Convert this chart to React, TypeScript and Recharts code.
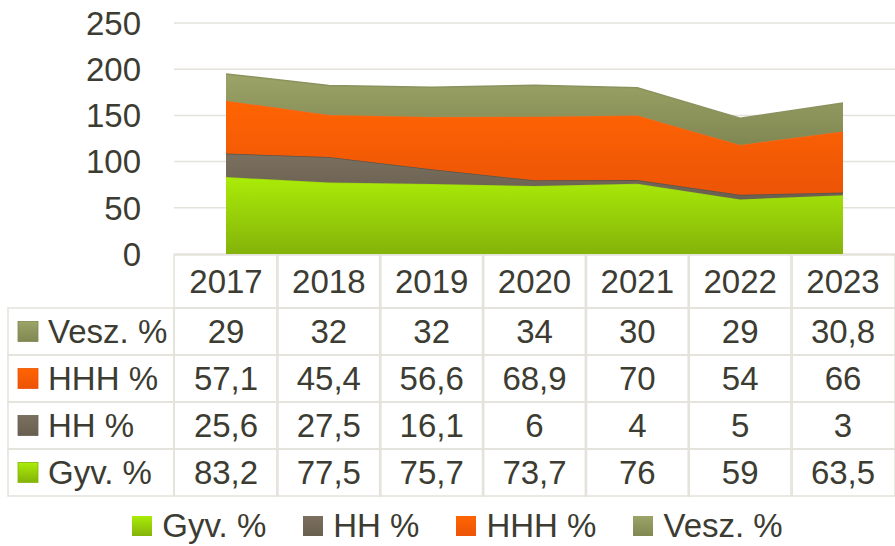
import { AreaChart, Area, XAxis, YAxis, CartesianGrid, Legend } from 'recharts';

const years = ['2017', '2018', '2019', '2020', '2021', '2022', '2023'];
const gyv = [83.2, 77.5, 75.7, 73.7, 76, 59, 63.5];
const hh = [25.6, 27.5, 16.1, 6, 4, 5, 3];
const hhh = [57.1, 45.4, 56.6, 68.9, 70, 54, 66];
const vesz = [29, 32, 32, 34, 30, 29, 30.8];
const yTicks = [0, 50, 100, 150, 200, 250];

const series = [
  { key: 'gyv', name: 'Gyv. %', values: gyv, top: '#aaec08', bottom: '#84b30a', stroke: '#9ed60c' },
  { key: 'hh', name: 'HH %', values: hh, top: '#7b705f', bottom: '#695f50', stroke: '#5c5346' },
  { key: 'hhh', name: 'HHH %', values: hhh, top: '#ff6402', bottom: '#ec5407', stroke: '#f7671a' },
  { key: 'vesz', name: 'Vesz. %', values: vesz, top: '#9da468', bottom: '#808751', stroke: '#8b925e' },
];

const data = years.map((year, i) => ({
  year,
  gyv: gyv[i],
  hh: hh[i],
  hhh: hhh[i],
  vesz: vesz[i],
}));

const TEXT = '#3c3c32';
const GRID = '#e4e2da';
const FONT = 33;
const COL = 104;
const HEAD_H = 53;
const ROW_H = 47;
const LABEL_W = 166;

const fmt = (v: number) => String(v).replace('.', ',');

// one table column per category, drawn at the x-axis tick position
function TableTick(props: any) {
  const { x, y, payload, index } = props;
  const half = COL / 2;
  const top = y + 1;
  const rows = [...series].reverse();
  return (
    <g>
      <rect x={x - half} y={top} width={COL} height={HEAD_H} fill="none" stroke={GRID} strokeWidth={1.5} />
      <text x={x} y={top + HEAD_H / 2} textAnchor="middle" dominantBaseline="central" fill={TEXT} fontSize={FONT}>
        {payload.value}
      </text>
      {rows.map((s, r) => {
        const ry = top + HEAD_H + r * ROW_H;
        return (
          <g key={s.key}>
            <rect x={x - half} y={ry} width={COL} height={ROW_H} fill="none" stroke={GRID} strokeWidth={1.5} />
            <text x={x} y={ry + ROW_H / 2} textAnchor="middle" dominantBaseline="central" fill={TEXT} fontSize={FONT}>
              {fmt(s.values[index])}
            </text>
            {index === 0 && (
              <g>
                <rect x={x - half - LABEL_W} y={ry} width={LABEL_W} height={ROW_H} fill="none" stroke={GRID} strokeWidth={1.5} />
                <rect x={x - half - LABEL_W + 10} y={ry + ROW_H / 2 - 10} width={20} height={20} fill={`url(#grad-${s.key})`} stroke={s.bottom} strokeWidth={0.8} />
                <text x={x - half - LABEL_W + 40} y={ry + ROW_H / 2} dominantBaseline="central" fill={TEXT} fontSize={FONT}>
                  {s.name}
                </text>
              </g>
            )}
          </g>
        );
      })}
    </g>
  );
}

function LegendContent(props: any) {
  const { payload } = props;
  return (
    <div
      style={{
        display: 'flex',
        justifyContent: 'center',
        gap: 37,
        height: 50,
        paddingTop: 10,
        paddingLeft: 20,
        boxSizing: 'border-box',
        lineHeight: '36px',
        fontSize: FONT,
        color: TEXT,
      }}
    >
      {(payload || []).map((entry: any) => (
        <div key={entry.dataKey} style={{ display: 'flex', alignItems: 'center', gap: 10 }}>
          <svg width={20} height={20}>
            <rect x={0} y={0} width={20} height={20} fill={`url(#grad-${entry.dataKey})`} />
          </svg>
          <span>{entry.value}</span>
        </div>
      ))}
    </div>
  );
}

export default function App() {
  return (
    <div style={{ position: 'absolute', left: 0, top: 0, background: '#fff', fontFamily: 'Liberation Sans' }}>
      <AreaChart width={895} height={546} data={data} margin={{ top: 23, right: 0, bottom: 0, left: 0 }}>
        <defs>
          {series.map((s) => (
            <linearGradient key={s.key} id={`grad-${s.key}`} x1="0" y1="0" x2="0" y2="1">
              <stop offset="0%" stopColor={s.top} />
              <stop offset="100%" stopColor={s.bottom} />
            </linearGradient>
          ))}
        </defs>
        <CartesianGrid vertical={false} stroke={GRID} strokeWidth={1.5} />
        <XAxis
          dataKey="year"
          height={242}
          interval={0}
          axisLine={false}
          tickLine={false}
          tickSize={0}
          tickMargin={0}
          padding={{ left: COL / 2, right: COL / 2 }}
          tick={<TableTick />}
        />
        <YAxis
          width={174}
          domain={[0, 250]}
          ticks={yTicks}
          axisLine={false}
          tickLine={false}
          tickMargin={27}
          tick={{ fill: TEXT, fontSize: FONT }}
        />
        {series.map((s) => (
          <Area
            key={s.key}
            type="linear"
            dataKey={s.key}
            name={s.name}
            stackId="a"
            stroke={s.stroke}
            strokeWidth={1.5}
            fill={`url(#grad-${s.key})`}
            fillOpacity={1}
            isAnimationActive={false}
          />
        ))}
        <Legend verticalAlign="bottom" content={<LegendContent />} />
      </AreaChart>
    </div>
  );
}
